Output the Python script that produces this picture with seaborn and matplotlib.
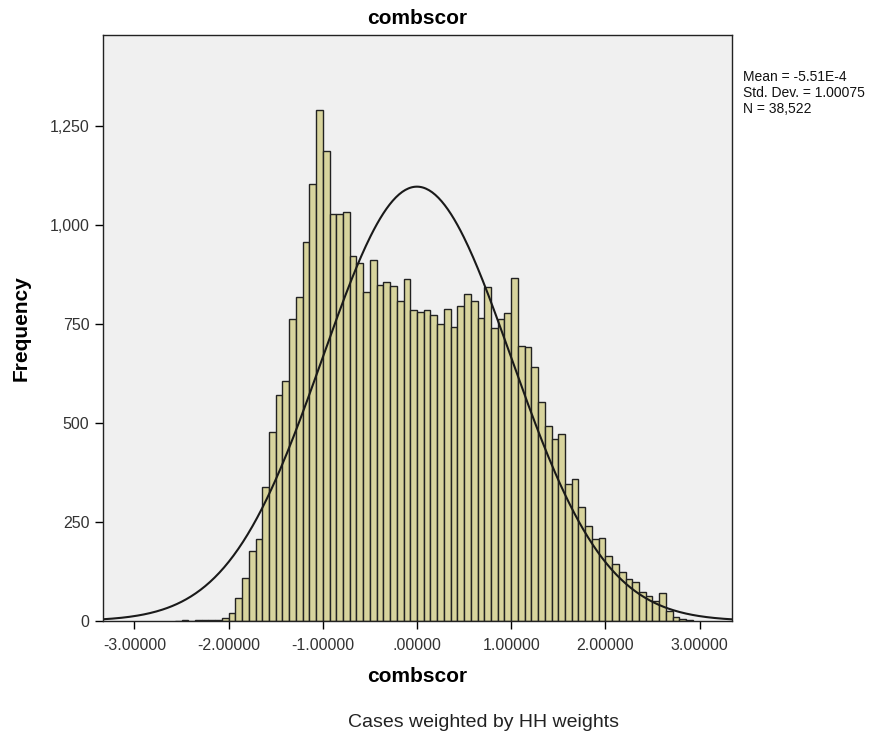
import numpy as np
import pandas as pd
import seaborn as sns
import matplotlib
matplotlib.use("Agg")
import matplotlib.pyplot as plt
from matplotlib.ticker import FuncFormatter

# summary stats shown in the SPSS box
mean_val = -5.51e-4
std_val = 1.00075
n_cases = 38522

# histogram bins: width 1/14, first bin starts at -36/14
bin_width = 1 / 14
first_bin = -36
counts = [1, 2, 1, 2, 2, 3, 3, 7,
          21, 58, 109, 177, 207, 339, 476, 571, 607,
          763, 817, 956, 1103, 1290, 1187, 1027, 1027, 1033, 921,
          903, 832, 912, 848, 857, 846, 807, 863, 785,
          781, 785, 772, 749, 787, 742, 796, 827, 809, 766,
          844, 739, 762, 777, 865, 694, 693, 641, 552, 493, 459, 471,
          346, 359, 288, 241, 207, 210, 164, 143, 124, 106, 98, 72,
          64, 51, 71, 24, 9, 5, 2]

x_ticks = [-3, -2, -1, 0, 1, 2, 3]
x_ticklabels = ["-3.00000", "-2.00000", "-1.00000", ".00000",
                "1.00000", "2.00000", "3.00000"]
y_ticks = [0, 250, 500, 750, 1000, 1250]

edges = (first_bin + np.arange(len(counts) + 1)) * bin_width
centers = (edges[:-1] + edges[1:]) / 2
df = pd.DataFrame({"combscor": centers, "freq": counts})

plt.rcParams['font.family'] = ['Liberation Sans', 'DejaVu Sans']

fig = plt.figure(figsize=(8.96, 7.41), dpi=100)
ax = fig.add_axes([0.1146, 0.162, 0.702, 0.7908])
ax.set_facecolor("#f0f0f0")

sns.histplot(data=df, x="combscor", weights="freq",
             binwidth=bin_width, binrange=(edges[0], edges[-1]), ax=ax,
             color="#d8d49d", edgecolor="#222222", linewidth=1.0, alpha=1)

# normal curve from the reported mean / sd / N
xlim = (-3.337, 3.341)
xs = np.linspace(xlim[0], xlim[1], 400)
ys = n_cases * bin_width * np.exp(-0.5 * ((xs - mean_val) / std_val) ** 2) / (std_val * np.sqrt(2 * np.pi))
sns.lineplot(x=xs, y=ys, ax=ax, color="#1a1a1a", linewidth=1.5)

ax.set_xlim(*xlim)
ax.set_ylim(0, 1480)
ax.set_xticks(x_ticks)
ax.set_xticklabels(x_ticklabels)
ax.set_yticks(y_ticks)
ax.yaxis.set_major_formatter(FuncFormatter(lambda v, p: f"{int(v):,}"))
ax.tick_params(axis="both", direction="out", length=6, width=1,
               colors="#000000", labelcolor="#333333", labelsize=11.5)
ax.tick_params(axis="x", pad=6)
for s in ax.spines.values():
    s.set_color("#222222")
    s.set_linewidth(1)

ax.set_xlabel("combscor", fontsize=15, fontweight="bold", labelpad=10)
ax.set_ylabel("Frequency", fontsize=15, fontweight="bold", labelpad=14)
ax.set_title("combscor", fontsize=15, fontweight="bold", pad=8)

fig.text(0.829, 0.906, "Mean = -5.51E-4\nStd. Dev. = 1.00075\nN = 38,522",
         fontsize=10, va="top", ha="left", color="#111111")
fig.text(0.54, 0.025, "Cases weighted by HH weights", fontsize=14,
         ha="center", va="center", color="#222222")

fig.savefig("out.png", dpi=100, facecolor="white")
